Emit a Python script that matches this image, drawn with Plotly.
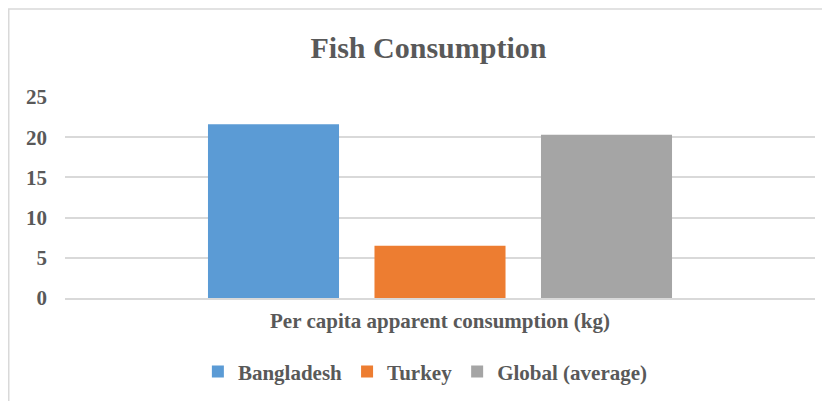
import plotly.graph_objects as go

# datos
categoria = ["Per capita apparent consumption (kg)"]
paises = ["Bangladesh", "Turkey", "Global (average)"]
consumo = [21.6, 6.5, 20.3]
colores = ["#5B9BD5", "#ED7D31", "#A5A5A5"]
ticks_y = [0, 5, 10, 15, 20, 25]

FUENTE = "Liberation Serif"
GRIS_TEXTO = "#595959"
GRIS_LINEA = "#D9D9D9"

fig = go.Figure()
for nombre, valor, color in zip(paises, consumo, colores):
    fig.add_trace(go.Bar(x=categoria, y=[valor], name=nombre,
                         marker=dict(color=color, line=dict(width=0))))

# la pagina tiene 8px de margen en el body, se compensa en los margenes
fig.update_layout(
    width=830, height=401,
    margin=dict(l=57, r=23, t=89, b=111),
    paper_bgcolor="white", plot_bgcolor="white",
    barmode="group", bargap=0.334, bargroupgap=0.213,
    title=dict(text="<b>Fish Consumption</b>", x=0.5066, xanchor="center",
               y=1 - 39 / 401, yanchor="middle",
               font=dict(family=FUENTE, size=30, color=GRIS_TEXTO)),
    font=dict(family=FUENTE, color=GRIS_TEXTO),
    showlegend=True,
    legend=dict(orientation="h", x=0.4805, xanchor="center",
                y=-0.368, yanchor="middle",
                font=dict(family=FUENTE, size=21, color=GRIS_TEXTO, weight="bold"),
                itemwidth=30, tracegroupgap=0),
)

fig.update_yaxes(range=[0, 25], tickvals=ticks_y, showgrid=True,
                 gridcolor=GRIS_LINEA, gridwidth=1.5, zeroline=False,
                 showline=False, ticklabelstandoff=17,
                 tickfont=dict(family=FUENTE, size=21, color=GRIS_TEXTO, weight="bold"))
fig.update_xaxes(showline=True, linecolor=GRIS_LINEA, linewidth=1.5,
                 showgrid=False, ticklabelstandoff=3,
                 tickfont=dict(family=FUENTE, size=21, color=GRIS_TEXTO, weight="bold"))

# borde del area del grafico (recortado a la derecha y abajo)
fig.add_shape(type="path", xref="paper", yref="paper",
              path="M -0.075,-0.7 L -0.075,1.438 L 1.1,1.438",
              line=dict(color=GRIS_LINEA, width=1.5))

fig.write_html("out.html")
